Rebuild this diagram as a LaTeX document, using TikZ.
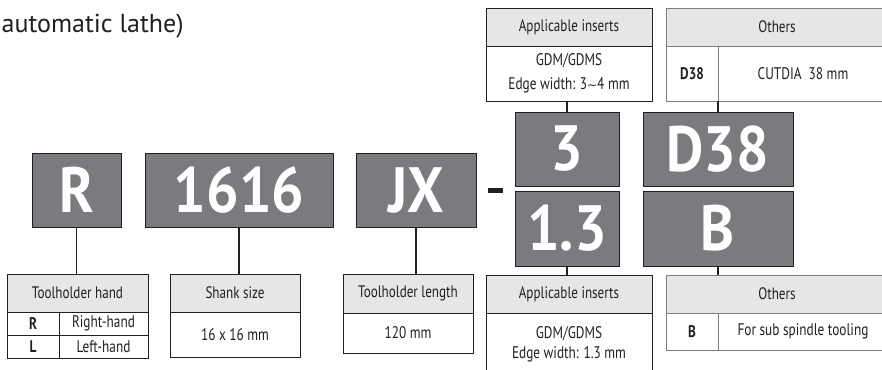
\documentclass[tikz,border=0pt]{standalone}
\usepackage{fontspec}
\setmainfont{PT Sans}
\newfontfamily\condfont[FakeStretch=0.79]{PT Sans}
\newfontfamily\bigfont[FakeStretch=0.9]{PT Sans}
\newfontfamily\symfont{DejaVu Sans}
\definecolor{boxgray}{HTML}{7A7B7F}
\definecolor{hdrgray}{HTML}{E6E6E7}
\definecolor{ink}{HTML}{231F20}
\definecolor{othline}{HTML}{7E7E80}
\begin{document}
\begin{tikzpicture}[x=1pt,y=-1pt,
  bigbox/.style={draw=ink, fill=boxgray, line width=0.8pt, inner sep=0pt, text=white,
    font=\bigfont\fontsize{64}{64}\selectfont\bfseries},
  hdr/.style={draw=ink, fill=hdrgray, line width=0.8pt, inner sep=0pt, text=ink,
    font=\condfont\fontsize{16.6}{18}\selectfont},
  cell/.style={draw=ink, fill=white, line width=0.8pt, inner sep=0pt, text=ink, align=center,
    font=\condfont\fontsize{16.8}{20}\selectfont},
  keycell/.style={cell, font=\condfont\fontsize{16.8}{20}\selectfont\bfseries},
  othhdr/.style={hdr, draw=othline},
  othcell/.style={cell, draw=othline},
  othkey/.style={keycell, draw=othline},
  conn/.style={line width=1.9pt, draw=ink}]
\useasboundingbox (0,0) rectangle (882,369);
\clip (0,0) rectangle (882,369);

% title
\node[anchor=base west, inner sep=0pt, text=ink, font=\fontsize{26}{28}\selectfont] (title) at (1.5,33) {automatic lathe)};

% big code boxes
\node[bigbox, minimum width=89pt, minimum height=74pt] (r) at (76.5,190) {R};
\node[bigbox, minimum width=188pt, minimum height=74pt] (ss) at (239,190) {1616};
\node[bigbox, minimum width=120pt, minimum height=74pt] (jx) at (416,190) {JX};
\node[bigbox, minimum width=104pt, minimum height=74pt] (three) at (567,149) {3};
\node[bigbox, minimum width=104pt, minimum height=75pt] (onethree) at (567,228.5) {1.3};
\node[bigbox, minimum width=150pt, minimum height=74pt] (dtt) at (718,149) {D38};
\node[bigbox, minimum width=150pt, minimum height=75pt] (b) at (718,228.5) {B};
\fill[ink] (488,188) rectangle (503,193);

% Toolholder hand
\node[hdr, minimum width=141pt, minimum height=38pt] (thh) at (77.5,293) {Toolholder hand};
\node[keycell, minimum width=52pt, minimum height=23pt] (thrk) at (33,323.5) {R};
\node[cell, minimum width=89pt, minimum height=23pt] (thrv) at (103.5,323.5) {Right-hand};
\node[keycell, minimum width=52pt, minimum height=23pt] (thlk) at (33,346.5) {L};
\node[cell, minimum width=89pt, minimum height=23pt] (thlv) at (103.5,346.5) {Left-hand};

% Shank size
\node[hdr, minimum width=130pt, minimum height=38pt] (shh) at (235,293) {Shank size};
\node[cell, minimum width=130pt, minimum height=45pt] (shv) at (235,334.5) {16 x 16 mm};

% Toolholder length
\node[hdr, minimum width=130pt, minimum height=39pt] (tlh) at (408,293.5) {Toolholder length};
\node[cell, minimum width=130pt, minimum height=40pt] (tlv) at (408,333) {120 mm};

% Applicable inserts (top)
\node[hdr, minimum width=166pt, minimum height=38pt] (ait) at (569,27) {Applicable inserts};
\node[cell, minimum width=166pt, minimum height=55pt, font=\condfont\fontsize{16.8}{24}\selectfont] (aitv) at (569,73.5) {GDM/GDMS\\Edge width: 3{\symfont\fontsize{12}{12}\selectfont ∼}4 mm};

% Others (top)
\node[othhdr, minimum width=222pt, minimum height=38pt] (ot) at (777,27) {Others};
\node[othkey, minimum width=52pt, minimum height=55pt] (otk) at (692,73.5) {D38};
\node[othcell, minimum width=170pt, minimum height=55pt] (otv) at (803,73.5) {CUTDIA\ \ 38 mm};

% Applicable inserts (bottom)
\node[hdr, minimum width=166pt, minimum height=38pt] (aib) at (569,294) {Applicable inserts};
\node[cell, minimum width=166pt, minimum height=63pt, font=\condfont\fontsize{16.8}{19.5}\selectfont] (aibv) at (569,344.5) {GDM/GDMS\\Edge width: 1.3 mm};

% Others (bottom)
\node[othhdr, minimum width=222pt, minimum height=38pt] (ob) at (777,294) {Others};
\node[othkey, minimum width=52pt, minimum height=37pt] (obk) at (692,331.5) {B};
\node[othcell, minimum width=170pt, minimum height=37pt] (obv) at (803,331.5) {For sub spindle tooling};

% connectors
\draw[conn] (r.south) -- (r.south |- thh.north);
\draw[conn] (ss.south) -- (ss.south |- shh.north);
\draw[conn] (jx.south) -- (jx.south |- tlh.north);
\draw[conn] (three.north) -- (three.north |- aitv.south);
\draw[conn] (dtt.north) -- (dtt.north |- otv.south);
\draw[conn] (onethree.south) -- (onethree.south |- aib.north);
\draw[conn] (b.south) -- (b.south |- ob.north);
\end{tikzpicture}
\end{document}
